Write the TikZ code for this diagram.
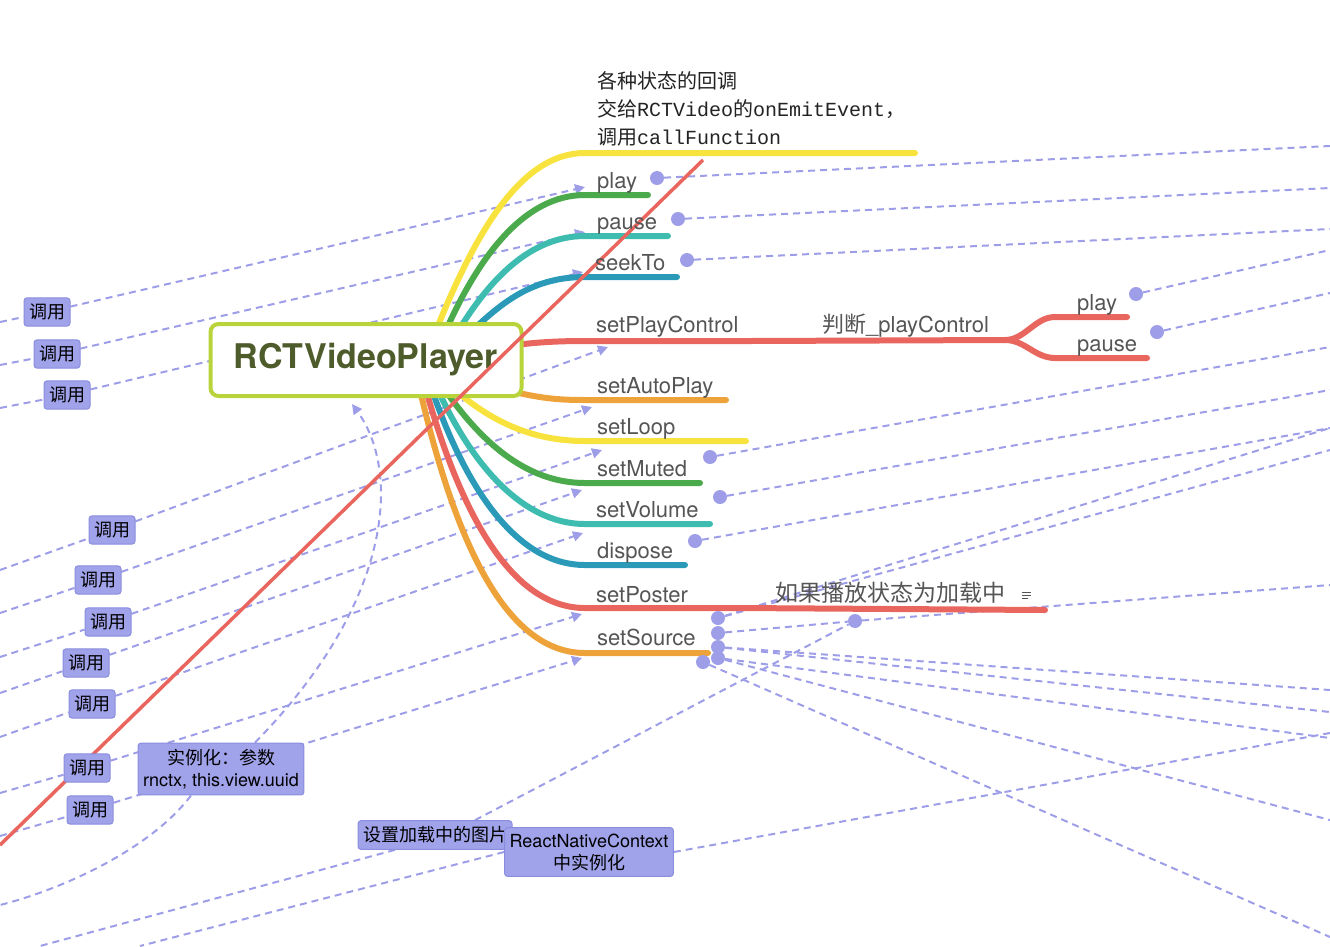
\documentclass[tikz,border=0pt]{standalone}
\usepackage{fontspec}
\setmainfont{TeX Gyre Heros}
\setmonofont{Liberation Mono}
\newfontfamily\cjk{Noto Sans CJK SC}
\usetikzlibrary{arrows.meta,positioning,calc}
\definecolor{lemon}{RGB}{247,226,62}
\definecolor{leaf}{RGB}{74,170,76}
\definecolor{lagoon}{RGB}{62,188,176}
\definecolor{ocean}{RGB}{43,154,184}
\definecolor{coral}{RGB}{233,102,94}
\definecolor{amber}{RGB}{237,163,58}
\definecolor{lilac}{RGB}{158,158,232}
\definecolor{lilacbox}{RGB}{160,162,234}
\definecolor{lilacedge}{RGB}{138,142,222}
\definecolor{lime}{RGB}{184,212,58}
\definecolor{olive}{RGB}{78,92,44}
\definecolor{ink}{RGB}{85,85,85}
\definecolor{note}{RGB}{35,35,35}
\pgfdeclarelayer{back}
\pgfsetlayers{back,main}

\begin{document}
\begin{tikzpicture}[x=1pt, y=-1pt, >={Triangle[length=10pt,width=10pt]},
    branch/.style={line width=6pt, line cap=round},
    rel/.style={lilac, line width=2pt, dash pattern=on 7pt off 5pt},
    lbl/.style={anchor=base west, inner sep=0pt, text=ink, font=\fontsize{22}{26}\selectfont},
    call/.style={rectangle, rounded corners=3pt, draw=lilacedge, line width=1pt, fill=lilacbox, text=black, align=center, inner xsep=5pt, inner ysep=6pt, font=\fontsize{18}{22}\selectfont},
    dot/.style={circle, fill=lilac, inner sep=0pt, minimum size=14pt},
    core/.style={rectangle, rounded corners=8pt, draw=lime, line width=4pt, fill=white, text=olive, minimum width=311pt, minimum height=72pt, font=\fontsize{34}{40}\selectfont\bfseries}]

    \useasboundingbox (0,0) rectangle (1330,946);
    \clip (0,0) rectangle (1330,946);

    % Frame anchors (relations leaving the view)
    \coordinate (w1) at (0,322);
    \coordinate (w2) at (0,365);
    \coordinate (w3) at (0,408);
    \coordinate (w4) at (0,570);
    \coordinate (w5) at (0,613);
    \coordinate (w6) at (0,657);
    \coordinate (w7) at (0,693);
    \coordinate (w8) at (0,737);
    \coordinate (w9) at (0,793);
    \coordinate (w10) at (0,836);
    \coordinate (w11) at (0,905);
    \coordinate (s1) at (40,946);
    \coordinate (s2) at (140,946);
    \coordinate (e1) at (1330,146);
    \coordinate (e2) at (1330,188);
    \coordinate (e3) at (1330,229);
    \coordinate (e4) at (1330,250);
    \coordinate (e5) at (1330,293);
    \coordinate (e6) at (1330,347);
    \coordinate (e7) at (1330,390);
    \coordinate (e8) at (1330,428);
    \coordinate (e9) at (1330,450);
    \coordinate (e10) at (1330,585);
    \coordinate (e11) at (1330,690);
    \coordinate (e12) at (1330,712);
    \coordinate (e13) at (1330,738);
    \coordinate (e14) at (1330,820);
    \coordinate (e15) at (1330,937);
    \coordinate (e16) at (1330,733);

    % Arrow targets at the branch heads
    \coordinate (tPlay) at (585,187);
    \coordinate (tPause) at (585,232);
    \coordinate (tSeek) at (583,272);
    \coordinate (tCtrl) at (608,347);
    \coordinate (tAuto) at (592,407);
    \coordinate (tLoop) at (602,450);
    \coordinate (tMute) at (582,490);
    \coordinate (tVol) at (583,533);
    \coordinate (tPoster) at (582,614);
    \coordinate (tSource) at (582,658);

    % Branches
    \draw[branch, lemon] (437,328) .. controls (475,235) and (520,153) .. (585,153) -- (915,153);
    \draw[branch, leaf] (447,328) .. controls (480,255) and (525,195) .. (585,195) -- (648,195);
    \draw[branch, lagoon] (460,328) .. controls (490,280) and (530,236) .. (585,236) -- (668,236);
    \draw[branch, ocean] (475,328) .. controls (505,300) and (535,277) .. (585,277) -- (677,277);
    \draw[branch, coral] (515,345) .. controls (540,342) and (560,341) .. (585,341) -- (750,341) -- (1005,340);
    \draw[branch, coral] (1005,340) .. controls (1025,340) and (1035,317) .. (1055,317) -- (1127,317);
    \draw[branch, coral] (1005,340) .. controls (1025,340) and (1035,358) .. (1055,358) -- (1147,358);
    \draw[branch, amber] (505,390) .. controls (540,398) and (555,400) .. (585,400) -- (726,400);
    \draw[branch, lemon] (455,390) .. controls (490,420) and (530,441) .. (585,441) -- (746,441);
    \draw[branch, leaf] (445,390) .. controls (480,440) and (525,483) .. (585,483) -- (700,483);
    \draw[branch, lagoon] (438,390) .. controls (470,460) and (520,524) .. (585,524) -- (710,524);
    \draw[branch, ocean] (432,390) .. controls (465,485) and (515,565) .. (585,565) -- (685,565);
    \draw[branch, coral] (426,390) .. controls (460,510) and (510,608) .. (585,608) -- (740,608) -- (1045,610);
    \draw[branch, amber] (420,390) .. controls (455,540) and (505,653) .. (585,653) -- (708,653);

    % Central topic
    \node[core] (center) at (366,360) {RCTVideoPlayer};

    % Long relation across the map
    \coordinate (redA) at (0,845);
    \coordinate (redB) at (703,160);
    \draw[coral, line width=3.5pt] (redA) -- (redB);

    % Branch labels
    \node[anchor=north west, inner sep=0pt, text=note, align=left, font=\fontsize{20}{28}\selectfont] (cbnote) at (597,71)
        {{\cjk 各种状态的回调}\\{\cjk 交给}\texttt{RCTVideo}{\cjk 的}\texttt{onEmitEvent}{\cjk ，}\\{\cjk 调用}\texttt{callFunction}};
    \node[lbl] (lPlay) at (597,188) {play};
    \node[lbl] (lPause) at (597,229) {pause};
    \node[lbl] (lSeek) at (595,270) {seekTo};
    \node[lbl] (lCtrl) at (596,332) {setPlayControl};
    \node[lbl] (lJudge) at (822,332) {{\cjk 判断}\_playControl};
    \node[lbl] (lPlay2) at (1077,310) {play};
    \node[lbl] (lPause2) at (1077,351) {pause};
    \node[lbl] (lAuto) at (597,393) {setAutoPlay};
    \node[lbl] (lLoop) at (597,434) {setLoop};
    \node[lbl] (lMute) at (597,476) {setMuted};
    \node[lbl] (lVol) at (596,517) {setVolume};
    \node[lbl] (lDisp) at (597,558) {dispose};
    \node[lbl] (lPoster) at (596,602) {setPoster};
    \node[lbl, font=\fontsize{23}{26}\selectfont] (lLoading) at (775,601) {\cjk 如果播放状态为加载中};
    \node[lbl] (lSource) at (597,645) {setSource};
    \draw[ink, line width=1pt] (1022,592) -- (1031,592) (1022,595) -- (1031,595) (1022,598) -- (1028,598);

    % Callers
    \node[call] (c1) at (47,312) {\cjk 调用};
    \node[call] (c2) at (57,354) {\cjk 调用};
    \node[call] (c3) at (67,395) {\cjk 调用};
    \node[call] (c4) at (112,530) {\cjk 调用};
    \node[call] (c5) at (98,580) {\cjk 调用};
    \node[call] (c6) at (108,622) {\cjk 调用};
    \node[call] (c7) at (86,663) {\cjk 调用};
    \node[call] (c8) at (92,704) {\cjk 调用};
    \node[call] (c9) at (87,768) {\cjk 调用};
    \node[call] (c10) at (90,810) {\cjk 调用};
    \node[call] (inst) at (221,769) {{\cjk 实例化：参数}\\rnctx, this.view.uuid};
    \node[call] (loadimg) at (435,835) {\cjk 设置加载中的图片};
    \node[call] (rnc) at (589,852) {ReactNativeContext\\{\cjk 中实例化}};

    % Relation ends
    \node[dot] (dPlay) at (657,178) {};
    \node[dot] (dPause) at (678,219) {};
    \node[dot] (dSeek) at (687,260) {};
    \node[dot] (dPlay2) at (1136,294) {};
    \node[dot] (dPause2) at (1157,332) {};
    \node[dot] (dMute) at (710,457) {};
    \node[dot] (dVol) at (720,497) {};
    \node[dot] (dDisp) at (695,541) {};
    \node[dot] (dLoad) at (855,621) {};
    \node[dot] (dS1) at (718,618) {};
    \node[dot] (dS2) at (718,633) {};
    \node[dot] (dS3) at (718,647) {};
    \node[dot] (dS4) at (718,658) {};
    \node[dot] (dS5) at (703,662) {};

    \begin{pgfonlayer}{back}
    % Calls coming in from the left
    \draw[rel] (w1) -- (c1);
    \draw[rel] (w2) -- (c2);
    \draw[rel] (w3) -- (c3);
    \draw[rel] (w4) -- (c4);
    \draw[rel] (w5) -- (c5);
    \draw[rel] (w6) -- (c6);
    \draw[rel] (w7) -- (c7);
    \draw[rel] (w8) -- (c8);
    \draw[rel] (w9) -- (c9);
    \draw[rel] (w10) -- (c10);
    \draw[rel,->] (c1) -- (tPlay);
    \draw[rel,->] (c2) -- (tPause);
    \draw[rel,->] (c3) -- (tSeek);
    \draw[rel,->] (c4) -- (tCtrl);
    \draw[rel,->] (c5) -- (tAuto);
    \draw[rel,->] (c6) -- (tLoop);
    \draw[rel,->] (c7) -- (tMute);
    \draw[rel,->] (c8) -- (tVol);
    \draw[rel,->] (c9) -- (tPoster);
    \draw[rel,->] (c10) -- (tSource);

    % Relations leaving to the right
    \draw[rel] (dPlay) -- (e1);
    \draw[rel] (dPause) -- (e2);
    \draw[rel] (dSeek) -- (e3);
    \draw[rel] (dPlay2) -- (e4);
    \draw[rel] (dPause2) -- (e5);
    \draw[rel] (dMute) -- (e6);
    \draw[rel] (dVol) -- (e7);
    \draw[rel] (dDisp) -- (e8);
    \draw[rel] (dS1) -- (e8);
    \draw[rel] (dS1) -- (e9);
    \draw[rel] (dS2) -- (dLoad);
    \draw[rel] (dLoad) -- (e10);
    \draw[rel] (dS3) -- (e11);
    \draw[rel] (dS3) -- (e12);
    \draw[rel] (dS4) -- (e13);
    \draw[rel] (dS4) -- (e14);
    \draw[rel] (dS5) -- (e15);

    % Instantiation notes
    \draw[rel,->] ([xshift=34pt]inst.north) .. controls (395,600) and (400,470) .. ([xshift=-14pt,yshift=-6pt]center.south);
    \draw[rel] ([xshift=-30pt]inst.south) .. controls (150,850) and (60,890) .. (w11);
    \draw[rel] ([xshift=40pt]loadimg.north) -- (dLoad);
    \draw[rel] ([xshift=-40pt]loadimg.south) -- (s1);
    \draw[rel] (rnc.west) -- (s2);
    \draw[rel] (rnc.east) -- (e16);
    \end{pgfonlayer}

\end{tikzpicture}
\end{document}
